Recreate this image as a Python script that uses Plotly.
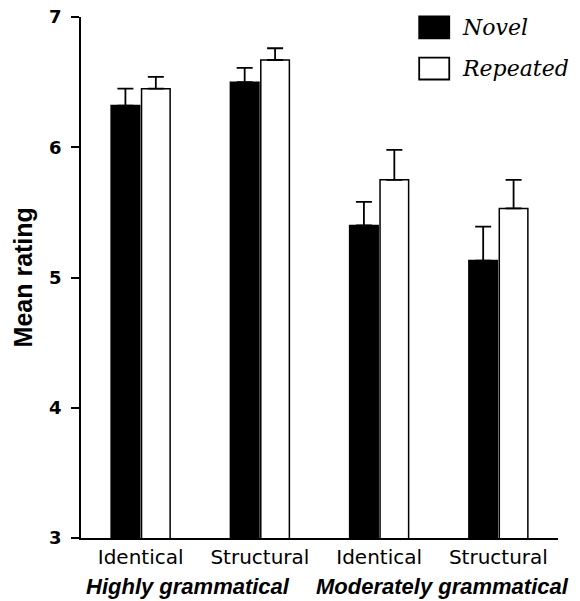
import plotly.graph_objects as go

# ---- data ----
conditions = ["Identical", "Structural", "Identical", "Structural"]
groups = ["Highly grammatical", "Moderately grammatical"]
novel = [6.32, 6.50, 5.40, 5.13]
novel_err = [0.13, 0.11, 0.18, 0.26]
repeated = [6.45, 6.67, 5.75, 5.53]
repeated_err = [0.09, 0.09, 0.23, 0.22]
y_ticks = [3, 4, 5, 6, 7]

xpos = list(range(len(conditions)))

fig = go.Figure()
fig.add_trace(go.Bar(
    x=xpos, y=novel, name="Novel",
    marker=dict(color="black", line=dict(color="black", width=1.5)),
    error_y=dict(type="data", symmetric=False, array=novel_err,
                 arrayminus=[0] * len(novel_err),
                 color="black", thickness=1.8, width=8),
))
fig.add_trace(go.Bar(
    x=xpos, y=repeated, name="Repeated",
    marker=dict(color="white", line=dict(color="black", width=1.5)),
    error_y=dict(type="data", symmetric=False, array=repeated_err,
                 arrayminus=[0] * len(repeated_err),
                 color="black", thickness=1.8, width=8),
))

fig.update_layout(
    width=580, height=601,
    margin=dict(l=81, r=22, t=17, b=63, autoexpand=False),
    plot_bgcolor="white", paper_bgcolor="white",
    barmode="group", bargap=0.49, bargroupgap=0.06,
    showlegend=False,
    font=dict(family="Liberation Sans, Arial, sans-serif", color="black"),
)
fig.update_xaxes(
    range=[-0.5, 3.5], tickvals=xpos, ticktext=conditions,
    showline=True, linecolor="black", linewidth=1.8,
    ticks="", showgrid=False, zeroline=False, automargin=False,
    tickfont=dict(family="DejaVu Sans", size=20, color="black"),
)
fig.update_yaxes(
    range=[3, 7], tickvals=y_ticks, ticktext=["<b>%d</b>" % v for v in y_ticks],
    showline=True, linecolor="black", linewidth=1.8,
    ticks="outside", ticklen=8, tickwidth=1.8, tickcolor="black",
    showgrid=False, zeroline=False, automargin=False,
    tickfont=dict(family="DejaVu Sans", size=18, color="black"),
    ticklabelstandoff=6, ticklabeloverflow="allow",
)

# y-axis title
fig.add_annotation(x=-0.1217, y=0.5, xref="paper", yref="paper",
                   text="<b>Mean rating</b>", showarrow=False, textangle=-90,
                   xanchor="center", yanchor="middle",
                   font=dict(family="Liberation Sans, Arial", size=25, color="black"))

# group labels
for gx, gtxt in zip([0.2234, 0.758], groups):
    fig.add_annotation(x=gx, y=-0.0935, xref="paper", yref="paper",
                       text="<b><i>" + gtxt + "</i></b>", showarrow=False,
                       xanchor="center", yanchor="middle",
                       font=dict(family="Liberation Sans, Arial", size=22, color="black"))

# legend (drawn manually to match large swatches)
legend_items = [("Novel", "black", 1.001, 0.959, 0.979),
                ("Repeated", "white", 0.922, 0.880, 0.901)]
for name, fill, y1, y0, ty in legend_items:
    fig.add_shape(type="rect", xref="paper", yref="paper",
                  x0=0.709, x1=0.772, y0=y0, y1=y1,
                  fillcolor=fill, line=dict(color="black", width=1.8))
    fig.add_annotation(x=0.795, y=ty, xref="paper", yref="paper",
                       text="<i>" + name + "</i>", showarrow=False,
                       xanchor="left", yanchor="middle",
                       font=dict(family="DejaVu Serif", size=22, color="black"))

# remove the page's default body margin so the figure fills the window exactly
fig.write_html("out.html",
               config={"displayModeBar": False},
               post_script="document.body.style.margin='0';document.body.style.overflow='hidden';")
